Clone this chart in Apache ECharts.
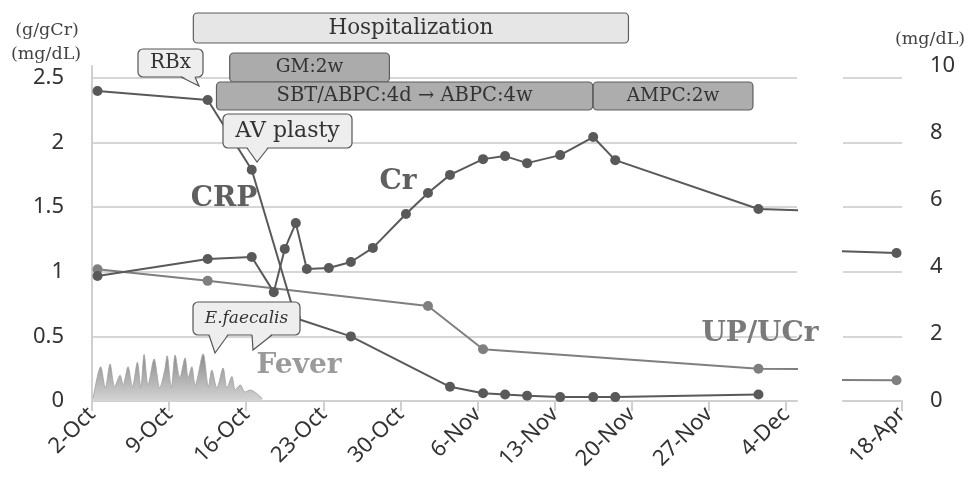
<!DOCTYPE html>
<html><head><meta charset="utf-8">
<script src="https://cdn.jsdelivr.net/npm/echarts@6/dist/echarts.min.js"></script>
<style>html,body{margin:0;padding:0;background:#fff}#c{width:971px;height:496px}</style>
</head><body><div id="c"></div>
<script>
// ---------- data ----------
const BASE_DATE = '2016-10-02';
const LATE_DATE = '2017-04-18';
const tickLabels = ['2-Oct','9-Oct','16-Oct','23-Oct','30-Oct','6-Nov','13-Nov','20-Nov','27-Nov','4-Dec'];
const lateTickLabel = '18-Apr';

const crpDates = ['2016-10-02','2016-10-12','2016-10-16','2016-10-20','2016-10-25','2016-11-03','2016-11-06','2016-11-08','2016-11-10','2016-11-13','2016-11-16','2016-11-18','2016-12-01'];
const crpValues = [2.40, 2.33, 1.79, 0.64, 0.50, 0.11, 0.06, 0.05, 0.04, 0.03, 0.03, 0.03, 0.05];

const crDates = ['2016-10-02','2016-10-12','2016-10-16','2016-10-18','2016-10-19','2016-10-20','2016-10-21','2016-10-23','2016-10-25','2016-10-27','2016-10-30','2016-11-01','2016-11-03','2016-11-06','2016-11-08','2016-11-10','2016-11-13','2016-11-16','2016-11-18','2016-12-01','2017-04-18'];
const crValues = [3.73, 4.24, 4.30, 3.25, 4.54, 5.31, 3.94, 3.97, 4.15, 4.57, 5.58, 6.21, 6.75, 7.22, 7.31, 7.10, 7.34, 7.88, 7.19, 5.73, 4.42];

const upDates = ['2016-10-02','2016-10-12','2016-11-01','2016-11-06','2016-12-01','2017-04-18'];
const upValues = [1.02, 0.93, 0.735, 0.40, 0.25, 0.16];

// fever trace (days from 2-Oct, scaled to left axis)
const feverDays = [0.1,0.79,1.21,1.64,2.06,2.55,2.82,3.27,3.67,4.12,4.43,4.73,5.09,5.64,6.15,6.6,6.82,7.2,7.55,7.97,8.45,8.73,9.06,9.36,10.09,10.57,10.88,11.34,11.9,12.25,12.7,13.0,13.45,13.9,14.36,15.45];
const feverValues = [0.02,0.265,0.10,0.286,0.11,0.20,0.124,0.265,0.11,0.30,0.10,0.36,0.124,0.325,0.10,0.24,0.35,0.10,0.356,0.18,0.333,0.18,0.265,0.124,0.364,0.11,0.24,0.10,0.255,0.10,0.19,0.085,0.124,0.07,0.085,0.02];

// treatment bars (days from 2-Oct)
const barLabels = ['Hospitalization', 'GM:2w', 'SBT/ABPC:4d \u2192 ABPC:4w', 'AMPC:2w'];
const barStart = [9.2, 12.5, 11.3, 45.5];
const barEnd = [48.7, 27.0, 45.45, 60.0];

// ---------- helpers ----------
const MS = 86400000;
const baseT = Date.parse(BASE_DATE + 'T00:00:00Z');
const dayOf = s => (Date.parse(s + 'T00:00:00Z') - baseT) / MS;
const pts = (dates, vals) => dates.map((d, i) => [dayOf(d) + 0.5, vals[i]]); // centre of day slot
const mainTicks = tickLabels.map((_, i) => i * 7);
const lateMax = dayOf(LATE_DATE) + 1;
const lateMin = lateMax - 5.36;

const rowStyle = [
  {y0: 13, y1: 43, fill: '#e6e6e6', size: 21.5},
  {y0: 53, y1: 82, fill: '#ababab', size: 18.5},
  {y0: 82, y1: 110, fill: '#adadad', size: 19.5},
  {y0: 82, y1: 110, fill: '#adadad', size: 18.5}
];

const SERIF = '"DejaVu Serif", serif';
const SANS = '"Noto Sans", sans-serif';
const gridCol = '#d6d6d6';

function callout(box, tails, text, size, italic) {
  const [x0, y0, x1, y1] = box;
  const ch = [{type: 'rect', z: 60, shape: {x: x0, y: y0, width: x1 - x0, height: y1 - y0, r: 5},
    style: {fill: '#eeeeee', stroke: '#555', lineWidth: 1.2}}];
  tails.forEach(t => {
    const [a, b, tx, ty] = t;
    ch.push({type: 'polygon', z: 61, shape: {points: [[a, y1 - 1.5], [tx, ty], [b, y1 - 1.5]]}, style: {fill: '#eeeeee'}});
    ch.push({type: 'polyline', z: 61, shape: {points: [[a, y1], [tx, ty], [b, y1]]}, style: {stroke: '#555', lineWidth: 1.2, fill: null}});
  });
  ch.push({type: 'text', z: 62, x: (x0 + x1) / 2, y: (y0 + y1) / 2,
    style: {text: text, fontFamily: SERIF, fontSize: size, fontStyle: italic ? 'italic' : 'normal', fill: '#333',
      align: 'center', verticalAlign: 'middle', textAlign: 'center', textVerticalAlign: 'middle'}});
  return {type: 'group', children: ch, z: 60};
}
function label(x, y, text, color, size) {
  return {type: 'text', x: x, y: y, z: 40,
    style: {text: text, fontFamily: SERIF, fontWeight: 'bold', fontSize: size, fill: color,
      align: 'center', verticalAlign: 'middle', textAlign: 'center', textVerticalAlign: 'middle'}};
}
function plain(x, y, text, size) {
  return {type: 'text', x: x, y: y, z: 40,
    style: {text: text, fontFamily: SERIF, fontSize: size, fill: '#444',
      align: 'center', verticalAlign: 'middle', textAlign: 'center', textVerticalAlign: 'middle'}};
}

const xLine = {show: true, lineStyle: {color: '#d0d0d0', width: 2}};
const xTickStyle = {color: '#d0d0d0', width: 2};
const xLabelStyle = {rotate: 45, fontSize: 22, color: '#333', fontFamily: SANS, margin: 10};

const dark = '#595959', mid = '#7f7f7f';
const lineSeries = (name, data, xi, yi, color) => ({
  name: name, type: 'line', data: data, xAxisIndex: xi, yAxisIndex: yi,
  symbol: 'circle', symbolSize: 10, clip: true,
  itemStyle: {color: color}, lineStyle: {color: color, width: 2}, z: 5
});

const chart = echarts.init(document.getElementById('c'));
chart.setOption({
  animation: false,
  grid: [
    {left: 92, top: 78, width: 705, height: 323},
    {left: 92, top: 66, width: 705, height: 335},
    {left: 843, top: 78, width: 59, height: 323},
    {left: 843, top: 66, width: 59, height: 335}
  ],
  xAxis: [
    {gridIndex: 0, type: 'value', min: 0, max: 64, axisLine: xLine,
      axisTick: {show: true, customValues: mainTicks, length: 10, lineStyle: xTickStyle},
      axisLabel: Object.assign({customValues: mainTicks, formatter: v => tickLabels[Math.round(v / 7)] || ''}, xLabelStyle),
      splitLine: {show: false}},
    {gridIndex: 1, type: 'value', min: 0, max: 64, show: false},
    {gridIndex: 2, type: 'value', min: lateMin, max: lateMax, axisLine: xLine,
      axisTick: {show: true, customValues: [lateMax], length: 10, lineStyle: xTickStyle},
      axisLabel: Object.assign({customValues: [lateMax], formatter: () => lateTickLabel}, xLabelStyle),
      splitLine: {show: false}},
    {gridIndex: 3, type: 'value', min: lateMin, max: lateMax, show: false}
  ],
  yAxis: [
    {gridIndex: 0, type: 'value', min: 0, max: 2.5, interval: 0.5,
      axisLine: {show: false}, axisTick: {show: false},
      axisLabel: {fontSize: 22, color: '#333', fontFamily: SANS, margin: 28},
      splitLine: {lineStyle: {color: gridCol, width: 2}}},
    {gridIndex: 1, type: 'value', min: 0, max: 10, position: 'left',
      axisLine: {show: true, lineStyle: {color: '#d0d0d0', width: 2}}, axisTick: {show: false},
      axisLabel: {show: false}, splitLine: {show: false}},
    {gridIndex: 2, type: 'value', min: 0, max: 2.5, interval: 0.5,
      axisLine: {show: false}, axisTick: {show: false}, axisLabel: {show: false},
      splitLine: {lineStyle: {color: gridCol, width: 2}}},
    {gridIndex: 3, type: 'value', position: 'right', min: 0, max: 10, interval: 2,
      axisLine: {show: false}, axisTick: {show: false}, splitLine: {show: false},
      axisLabel: {fontSize: 22, color: '#333', fontFamily: SANS, margin: 28}}
  ],
  series: [
    {name: 'Fever', type: 'line', xAxisIndex: 0, yAxisIndex: 0, symbol: 'none', smooth: 0.3,
      data: feverDays.map((d, i) => [d, feverValues[i]]),
      lineStyle: {width: 0.8, color: '#a0a0a0'},
      areaStyle: {color: new echarts.graphic.LinearGradient(0, 0, 0, 1, [{offset: 0, color: '#8a8a8a'}, {offset: 1, color: '#d4d4d4'}]), opacity: 1},
      z: 2},
    lineSeries('UP/UCr', pts(upDates, upValues), 0, 0, mid),
    lineSeries('CRP', pts(crpDates, crpValues), 0, 0, dark),
    lineSeries('Cr', pts(crDates, crValues), 1, 1, dark),
    lineSeries('UP/UCr late', pts(upDates, upValues), 2, 2, mid),
    lineSeries('Cr late', pts(crDates, crValues), 3, 3, dark),
    {type: 'custom', xAxisIndex: 0, yAxisIndex: 0, clip: false, z: 20,
      data: barLabels.map((_, i) => [barStart[i], barEnd[i]]),
      encode: {x: [0, 1]},
      renderItem: (params, api) => {
        const i = params.dataIndex, r = rowStyle[i];
        const xa = api.coord([api.value(0), 0])[0];
        const xb = api.coord([api.value(1), 0])[0];
        return {type: 'rect', shape: {x: xa, y: r.y0, width: xb - xa, height: r.y1 - r.y0, r: 4},
          style: {fill: r.fill, stroke: '#5e5e5e', lineWidth: 1.2},
          textContent: {style: {text: barLabels[i], fontFamily: SERIF, fontSize: r.size, fill: '#333'}},
          textConfig: {position: 'inside'}};
      }}
  ],
  graphic: [
    plain(47, 30, '(g/gCr)', 17.5),
    plain(46, 54, '(mg/dL)', 17.5),
    plain(930, 39, '(mg/dL)', 17.5),
    label(224, 199, 'CRP', '#5f5f5f', 28),
    label(398, 182, 'Cr', '#5f5f5f', 28),
    label(760, 334, 'UP/UCr', '#7a7a7a', 28),
    label(299, 366, 'Fever', '#9a9a9a', 28),
    callout([138, 49, 203, 77], [[181, 195, 199, 86]], 'RBx', 20, false),
    callout([223, 114, 352, 148], [[247, 268, 257, 162]], 'AV plasty', 22, false),
    callout([193, 302, 300, 335], [[209, 228, 215, 353], [252, 272, 253, 350]], 'E.faecalis', 17, true)
  ]
});
</script>
</body></html>
